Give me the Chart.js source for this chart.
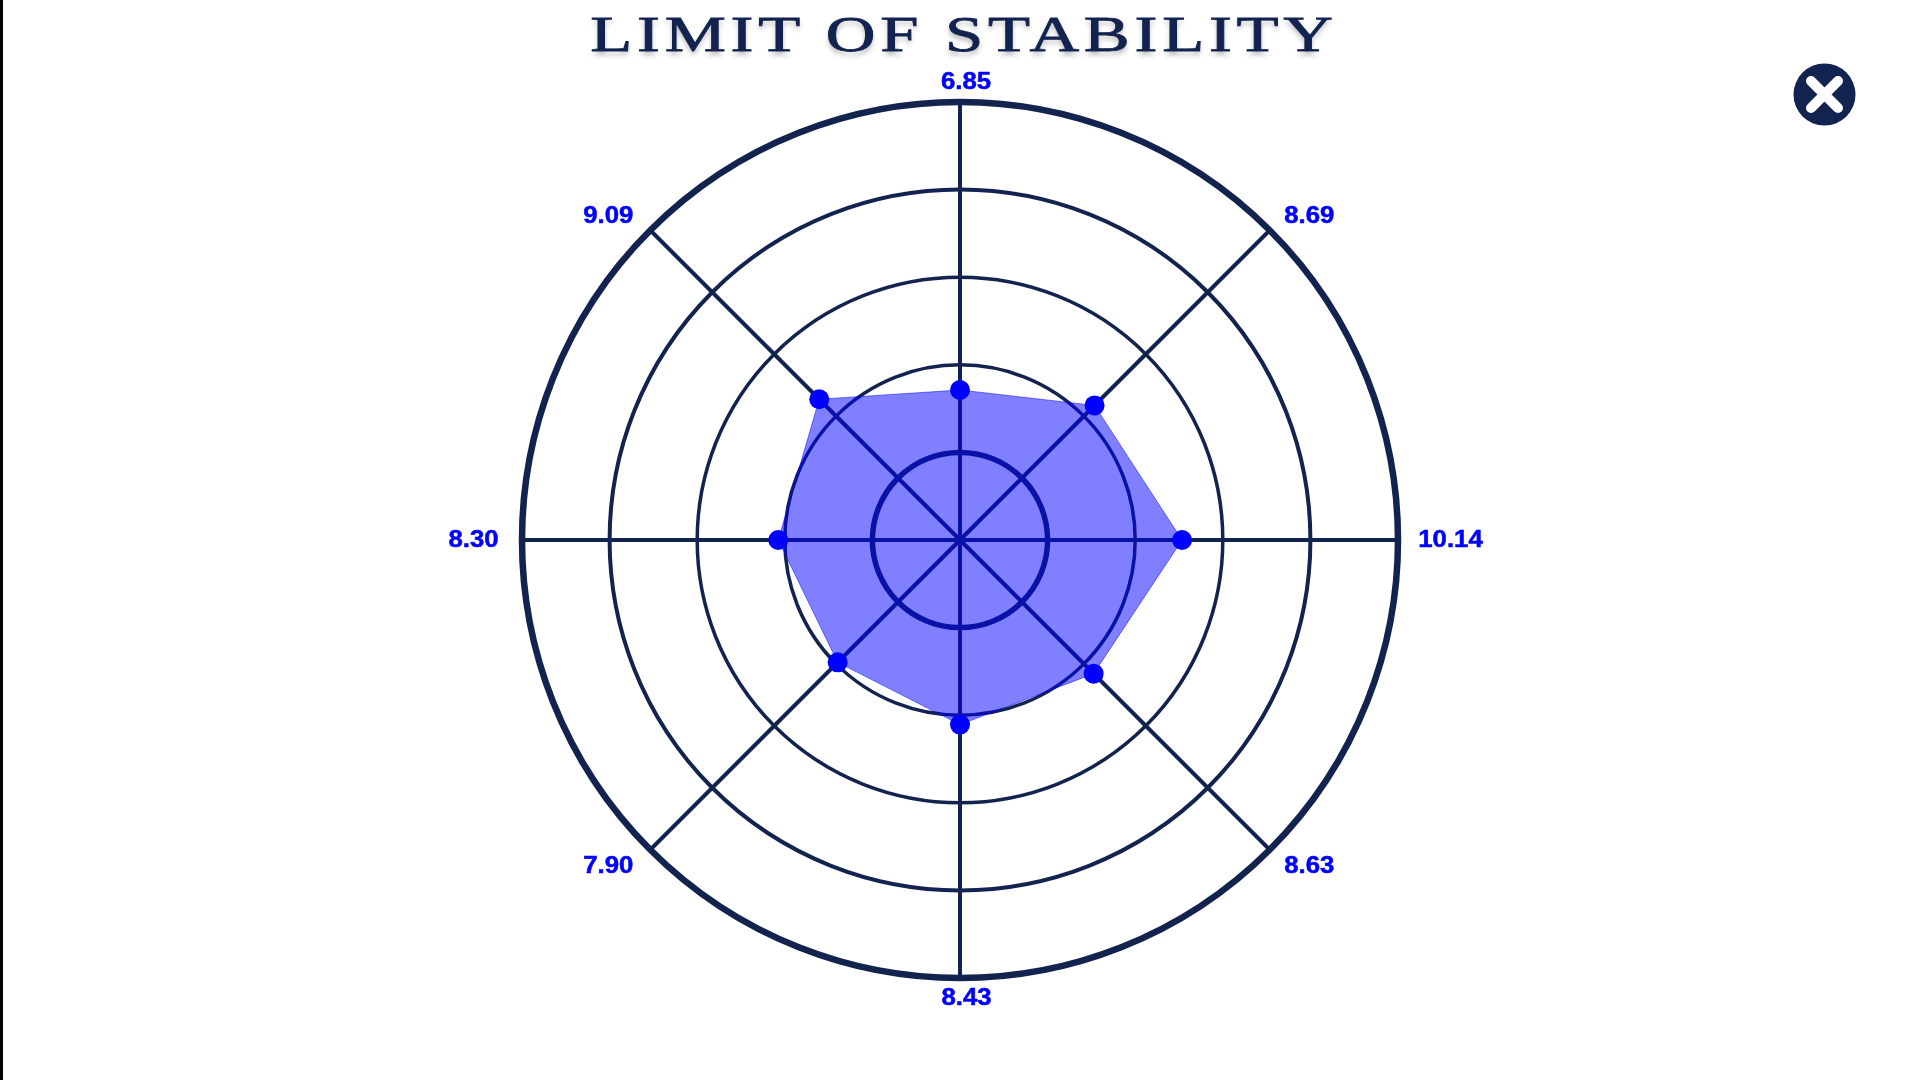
<!DOCTYPE html>
<html>
<head>
  <meta charset="UTF-8">
  <title>Limit of Stability</title>
  <script src="https://cdn.jsdelivr.net/npm/chart.js"></script>
  <style>
    html, body { margin: 0; padding: 0; background: #fff; overflow: hidden; }
    body { width: 1920px; height: 1080px; position: relative; }
    #leftEdge { position: absolute; left: 0; top: 0; width: 3px; height: 1080px; background: #000; z-index: 3; }
    #chartBox { position: absolute; left: 0; top: 0; width: 1920px; height: 1080px; }
    h1 {
      position: absolute; left: 4px; top: 1px; width: 1920px; margin: 0; text-align: center; z-index: 2;
      font: 400 51px/67px "Liberation Serif", serif; color: #12234f; white-space: nowrap;
      letter-spacing: 3.5px; transform: scaleX(1.35); -webkit-text-stroke: 0.8px #12234f;
      text-shadow: 0 4px 5px rgba(0,0,0,.28);
    }
    #closeBtn { position: absolute; left: 1793px; top: 63px; width: 63px; height: 63px; z-index: 2; }
  </style>
</head>
<body>
  <div id="leftEdge"></div>
  <h1>LIMIT OF STABILITY</h1>
  <svg id="closeBtn" viewBox="0 0 63 63">
    <circle cx="31.5" cy="31.5" r="31" fill="#12234f"/>
    <path d="M18 18 L45 45 M45 18 L18 45" stroke="#fff" stroke-width="10" stroke-linecap="round"/>
  </svg>
  <div id="chartBox"><canvas id="stabilityChart"></canvas></div>

  <script>
    // clockwise from the top
    const categories = ['6.85', '8.69', '10.14', '8.63', '8.43', '7.90', '8.30', '9.09'];
    const reachValues = [6.85, 8.69, 10.14, 8.63, 8.43, 7.90, 8.30, 9.09];
    const ringMax = 20;
    const ringStep = 4;

    const navy = '#12234f';
    const ringWidths = [0, 5.5, 3.5, 3.5, 4, 6.5];
    // label shift from the point on the outer ring
    const labelNudge = [[6, -19], [39.5, -13.5], [52.5, 0.5], [39.5, 16.5], [6.5, 21], [-42, 16.5], [-48.5, 0.5], [-42, -13.5]];

    const outerLabels = {
      id: 'outerLabels',
      afterDatasetsDraw(chart) {
        const r = chart.scales.r;
        const ctx = chart.ctx;
        ctx.save();
        ctx.font = 'bold 23px "Liberation Sans"';
        ctx.fillStyle = '#0000ff';
        ctx.strokeStyle = '#0000ff';
        ctx.lineWidth = 0.5;
        ctx.textAlign = 'center';
        ctx.textBaseline = 'middle';
        categories.forEach((txt, i) => {
          const p = r.getPointPosition(i, r.drawingArea);
          ctx.save();
          ctx.translate(p.x + labelNudge[i][0], p.y + labelNudge[i][1]);
          ctx.scale(1.12, 1); // the original digits are stretched sideways
          ctx.fillText(txt, 0, 0);
          ctx.strokeText(txt, 0, 0);
          ctx.restore();
        });
        ctx.restore();
      }
    };

    new Chart(document.getElementById('stabilityChart'), {
      type: 'radar',
      data: {
        labels: categories,
        datasets: [{
          data: reachValues,
          fill: true,
          backgroundColor: 'rgba(0,0,255,0.5)',
          borderColor: 'rgba(0,0,255,0.5)',
          borderWidth: 1,
          pointRadius: 10,
          pointBorderWidth: 0,
          pointBackgroundColor: '#0000ff'
        }]
      },
      options: {
        responsive: true,
        maintainAspectRatio: false,
        animation: false,
        layout: { padding: { top: 102, bottom: 102, left: 0, right: 0 } },
        plugins: { legend: { display: false }, tooltip: { enabled: false } },
        scales: {
          r: {
            min: 0,
            max: ringMax,
            ticks: { stepSize: ringStep, display: false },
            pointLabels: { display: false },
            angleLines: { display: true, color: navy, lineWidth: 4 },
            grid: { circular: true, color: navy, lineWidth: c => ringWidths[c.index] }
          }
        }
      },
      plugins: [outerLabels]
    });
  </script>
</body>
</html>
